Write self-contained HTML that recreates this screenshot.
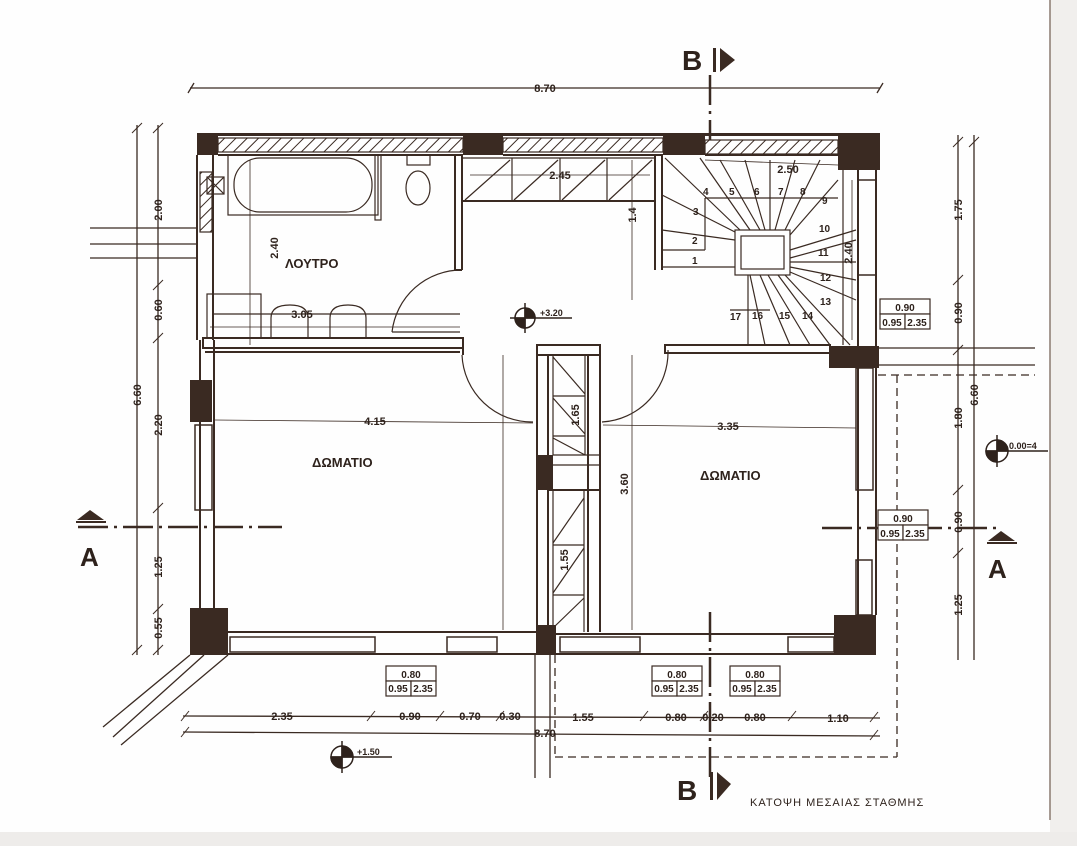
<!DOCTYPE html>
<html><head><meta charset="utf-8"><style>
html,body{margin:0;padding:0;background:#fff;}
svg{display:block;}
text{font-family:"Liberation Sans",sans-serif;fill:#2e221c;font-weight:bold;}
</style></head><body>
<svg width="1077" height="846" viewBox="0 0 1077 846" xmlns="http://www.w3.org/2000/svg">
<defs>
<pattern id="h" width="8" height="8" patternUnits="userSpaceOnUse" patternTransform="rotate(45)">
<rect width="8" height="8" fill="#fff"/><line x1="0" y1="0" x2="0" y2="8" stroke="#3a2a22" stroke-width="2"/>
</pattern>
</defs>
<rect width="1077" height="846" fill="#fefefe"/>
<rect x="1050" y="0" width="27" height="846" fill="#f1efed"/>
<line x1="1050" y1="0" x2="1050" y2="820" stroke="#8a7a70" stroke-width="1.5"/>
<rect x="0" y="832" width="1077" height="14" fill="#eeecea"/>

<g stroke="#3a2a22" fill="none" stroke-width="1.3">
<!-- top dimension -->
<line x1="190" y1="88" x2="880" y2="88"/>
<line x1="188" y1="93" x2="194" y2="83"/><line x1="877" y1="93" x2="883" y2="83"/>
<!-- left dimensions -->
<line x1="137" y1="125" x2="137" y2="655"/>
<line x1="158" y1="125" x2="158" y2="655"/>
<g stroke-width="1"><line x1="132" y1="133" x2="142" y2="123"/><line x1="153" y1="133" x2="163" y2="123"/>
<line x1="153" y1="290" x2="163" y2="280"/><line x1="153" y1="343" x2="163" y2="333"/>
<line x1="153" y1="513" x2="163" y2="503"/><line x1="153" y1="614" x2="163" y2="604"/>
<line x1="132" y1="655" x2="142" y2="645"/><line x1="153" y1="655" x2="163" y2="645"/></g>
<!-- right dimensions -->
<line x1="958" y1="135" x2="958" y2="660"/>
<line x1="974" y1="135" x2="974" y2="660"/>
<g stroke-width="1"><line x1="953" y1="147" x2="963" y2="137"/><line x1="969" y1="147" x2="979" y2="137"/>
<line x1="953" y1="285" x2="963" y2="275"/><line x1="953" y1="355" x2="963" y2="345"/>
<line x1="953" y1="495" x2="963" y2="485"/><line x1="953" y1="558" x2="963" y2="548"/></g>
<!-- bottom dimensions -->
<line x1="183" y1="716" x2="880" y2="718"/>
<line x1="183" y1="732" x2="880" y2="736"/>
<g stroke-width="1"><line x1="181" y1="721" x2="189" y2="711"/><line x1="367" y1="721" x2="375" y2="711"/>
<line x1="436" y1="721" x2="444" y2="711"/><line x1="496" y1="721" x2="504" y2="711"/>
<line x1="640" y1="721" x2="648" y2="711"/><line x1="700" y1="721" x2="708" y2="711"/>
<line x1="788" y1="721" x2="796" y2="711"/><line x1="870" y1="722" x2="878" y2="712"/>
<line x1="181" y1="737" x2="189" y2="727"/><line x1="870" y1="740" x2="878" y2="730"/></g>

<!-- external lines -->
<line x1="90" y1="228" x2="197" y2="228"/><line x1="90" y1="244" x2="197" y2="244"/><line x1="90" y1="258" x2="197" y2="258"/>
<line x1="878" y1="348" x2="1035" y2="348"/><line x1="878" y1="365" x2="1035" y2="365"/>
<line x1="878" y1="375" x2="1035" y2="375" stroke-dasharray="8,5"/>
<line x1="897" y1="375" x2="897" y2="757" stroke-dasharray="8,5"/>
<line x1="555" y1="757" x2="897" y2="757" stroke-dasharray="8,5"/>
<line x1="555" y1="655" x2="555" y2="757" stroke-dasharray="8,5"/>
<line x1="190" y1="655" x2="103" y2="727"/><line x1="204" y1="655" x2="113" y2="737"/><line x1="228" y1="655" x2="121" y2="745"/>
<line x1="535" y1="655" x2="535" y2="778"/><line x1="550" y1="655" x2="550" y2="778"/>

<!-- section lines -->
<line x1="78" y1="527" x2="282" y2="527" stroke-width="2.5" stroke-dasharray="30,6,3,6"/>
<line x1="822" y1="528" x2="1000" y2="528" stroke-width="2.5" stroke-dasharray="30,6,3,6"/>
<line x1="710" y1="75" x2="710" y2="145" stroke-width="2.5" stroke-dasharray="30,6,3,6"/>
<line x1="710" y1="612" x2="710" y2="780" stroke-width="2.5" stroke-dasharray="30,6,3,6"/>
</g>

<!-- walls -->
<g fill="#3a2a22">
<rect x="197" y="133" width="683" height="3"/>
<rect x="197" y="133" width="21" height="22"/>
<rect x="463" y="133" width="40" height="22"/>
<rect x="663" y="133" width="42" height="22"/>
<rect x="838" y="133" width="42" height="37"/>
<rect x="190" y="608" width="38" height="47"/>
<rect x="536" y="625" width="20" height="30"/>
<rect x="834" y="615" width="42" height="40"/>
<rect x="829" y="346" width="50" height="22"/>
<rect x="190" y="380" width="22" height="42"/>
<rect x="537" y="455" width="16" height="35"/>
</g>
<g fill="url(#h)" stroke="#3a2a22" stroke-width="1.2">
<rect x="218" y="138" width="245" height="14"/>
<rect x="503" y="138" width="160" height="14"/>
<rect x="705" y="140" width="133" height="14"/>
<rect x="200" y="172" width="12" height="60"/>
</g>
<g stroke="#3a2a22" fill="none" stroke-width="2">
<!-- outer walls outlines -->
<line x1="197" y1="155" x2="197" y2="340"/><line x1="213" y1="155" x2="213" y2="340"/>
<line x1="218" y1="155" x2="463" y2="155"/><line x1="503" y1="155" x2="663" y2="155"/><line x1="705" y1="155" x2="838" y2="155"/>
<line x1="200" y1="340" x2="200" y2="610"/><line x1="214" y1="340" x2="214" y2="610"/>
<line x1="228" y1="632" x2="536" y2="632"/><line x1="228" y1="654" x2="536" y2="654"/>
<line x1="556" y1="634" x2="834" y2="634"/><line x1="556" y1="654" x2="834" y2="654"/>
<line x1="858" y1="170" x2="858" y2="615"/><line x1="876" y1="170" x2="876" y2="615"/>
<!-- windows left/right -->
<rect x="195" y="425" width="17" height="85" stroke-width="1.5"/>
<rect x="858" y="180" width="18" height="95" stroke-width="1.5"/>
<rect x="856" y="368" width="17" height="122" stroke-width="1.5"/>
<rect x="856" y="560" width="16" height="55" stroke-width="1.5"/>
<rect x="230" y="637" width="145" height="15" stroke-width="1.5"/>
<rect x="447" y="637" width="50" height="15" stroke-width="1.5"/>
<rect x="560" y="637" width="80" height="15" stroke-width="1.5"/>
<rect x="788" y="637" width="46" height="15" stroke-width="1.5"/>
<!-- bathroom walls -->
<line x1="455" y1="155" x2="455" y2="270"/><line x1="462" y1="155" x2="462" y2="270"/>
<line x1="455" y1="270" x2="462" y2="270"/>
<rect x="203" y="338" width="260" height="10" stroke-width="2"/>
<line x1="463" y1="348" x2="463" y2="355"/>
<!-- stair wall -->
<line x1="655" y1="155" x2="655" y2="270"/><line x1="662" y1="155" x2="662" y2="270"/>
<rect x="665" y="345" width="165" height="8"/>
<!-- left room top -->
<line x1="205" y1="352" x2="460" y2="352"/>
<!-- central closet -->
<rect x="537" y="345" width="63" height="10"/>
<line x1="537" y1="355" x2="537" y2="632"/><line x1="548" y1="355" x2="548" y2="632"/>
<line x1="588" y1="355" x2="588" y2="632"/><line x1="600" y1="355" x2="600" y2="632"/>
<line x1="548" y1="490" x2="600" y2="490"/>
</g>
<g stroke="#3a2a22" fill="none" stroke-width="1.2">
<!-- closet hatches -->
<line x1="553" y1="355" x2="553" y2="455"/><line x1="585" y1="355" x2="585" y2="455"/>
<line x1="553" y1="396" x2="585" y2="396"/><line x1="553" y1="436" x2="585" y2="436"/>
<line x1="553" y1="357" x2="585" y2="394"/><line x1="553" y1="398" x2="585" y2="434"/><line x1="553" y1="438" x2="585" y2="455"/>
<line x1="553" y1="455" x2="600" y2="455"/><line x1="553" y1="465" x2="600" y2="465"/>
<line x1="553" y1="490" x2="553" y2="632"/><line x1="584" y1="490" x2="584" y2="632"/>
<line x1="553" y1="545" x2="584" y2="545"/><line x1="553" y1="595" x2="584" y2="595"/>
<line x1="553" y1="543" x2="584" y2="498"/><line x1="553" y1="593" x2="584" y2="548"/><line x1="553" y1="628" x2="584" y2="598"/>
<!-- corridor closet -->
<line x1="463" y1="201" x2="655" y2="201" stroke-width="2"/>
<line x1="463" y1="158" x2="655" y2="158"/>
<line x1="512" y1="158" x2="512" y2="201"/><line x1="560" y1="158" x2="560" y2="201"/><line x1="607" y1="158" x2="607" y2="201"/>
<line x1="465" y1="200" x2="510" y2="160"/><line x1="514" y1="200" x2="558" y2="160"/><line x1="562" y1="200" x2="605" y2="160"/><line x1="609" y1="200" x2="652" y2="160"/>
<!-- bathroom fixtures -->
<rect x="228" y="155" width="150" height="60"/>
<rect x="234" y="158" width="138" height="54" rx="26"/>
<rect x="375" y="155" width="6" height="65"/>
<rect x="207" y="177" width="17" height="17"/><line x1="207" y1="177" x2="224" y2="194"/><line x1="224" y1="177" x2="207" y2="194"/>
<ellipse cx="418" cy="188" rx="12" ry="17"/><rect x="407" y="155" width="23" height="10"/>
<rect x="207" y="294" width="54" height="44"/>
<line x1="213" y1="314" x2="460" y2="314"/>
<path d="M271 338 V318 Q271 305 290 305 Q308 305 308 318 V338"/>
<path d="M330 338 V318 Q330 305 348 305 Q366 305 366 318 V338"/>
<!-- doors -->
<path d="M392 332 A70 70 0 0 1 462 270"/>
<line x1="392" y1="332" x2="460" y2="332"/>
<path d="M462 355 A70 70 0 0 0 533 422"/>
<path d="M668 350 A70 70 0 0 1 602 422"/>
<!-- stairs -->
<rect x="735" y="230" width="55" height="45"/><rect x="741" y="236" width="43" height="33"/>
<line x1="705" y1="198" x2="838" y2="198"/>
<line x1="705" y1="198" x2="705" y2="250"/>
<line x1="662" y1="250" x2="705" y2="250"/><line x1="662" y1="267" x2="735" y2="267"/>
<line x1="662" y1="230" x2="735" y2="240"/><line x1="662" y1="195" x2="735" y2="232"/>
<line x1="665" y1="158" x2="740" y2="230"/><line x1="700" y1="158" x2="750" y2="230"/>
<line x1="720" y1="160" x2="760" y2="230"/><line x1="745" y1="160" x2="765" y2="230"/>
<line x1="770" y1="160" x2="770" y2="230"/><line x1="795" y1="160" x2="775" y2="230"/>
<line x1="820" y1="160" x2="785" y2="230"/><line x1="838" y1="180" x2="790" y2="235"/>
<line x1="856" y1="230" x2="790" y2="250"/><line x1="856" y1="240" x2="790" y2="258"/>
<line x1="856" y1="262" x2="790" y2="262"/><line x1="856" y1="280" x2="790" y2="267"/>
<line x1="856" y1="300" x2="790" y2="272"/><line x1="850" y1="345" x2="785" y2="275"/>
<line x1="830" y1="345" x2="778" y2="275"/><line x1="810" y1="345" x2="768" y2="275"/>
<line x1="790" y1="345" x2="760" y2="275"/><line x1="765" y1="345" x2="750" y2="275"/>
<line x1="748" y1="345" x2="748" y2="275"/>
<line x1="730" y1="310" x2="770" y2="310"/>
<line x1="843" y1="160" x2="843" y2="345"/>
<!-- dimension lines inside -->
<line x1="470" y1="175" x2="650" y2="175" stroke-width="0.8"/>
<line x1="632" y1="160" x2="632" y2="300" stroke-width="0.8"/>
<line x1="250" y1="160" x2="250" y2="345" stroke-width="0.8"/>
<line x1="210" y1="327" x2="460" y2="327" stroke-width="0.8"/>
<line x1="215" y1="420" x2="533" y2="423" stroke-width="0.8"/>
<line x1="603" y1="425" x2="856" y2="428" stroke-width="0.8"/>
<line x1="503" y1="355" x2="503" y2="630" stroke-width="0.8"/>
<line x1="632" y1="355" x2="632" y2="630" stroke-width="0.8"/>
<line x1="705" y1="160" x2="838" y2="165" stroke-width="0.8"/>
<line x1="852" y1="180" x2="852" y2="340" stroke-width="0.8"/>
</g>
<!-- window tags -->
<g stroke="#3a2a22" fill="#fff" stroke-width="1.2">
<rect x="386" y="666" width="50" height="15"/><rect x="386" y="681" width="25" height="15"/><rect x="411" y="681" width="25" height="15"/>
<rect x="652" y="666" width="50" height="15"/><rect x="652" y="681" width="25" height="15"/><rect x="677" y="681" width="25" height="15"/>
<rect x="730" y="666" width="50" height="15"/><rect x="730" y="681" width="25" height="15"/><rect x="755" y="681" width="25" height="15"/>
<rect x="880" y="299" width="50" height="15"/><rect x="880" y="314" width="25" height="15"/><rect x="905" y="314" width="25" height="15"/>
<rect x="878" y="510" width="50" height="15"/><rect x="878" y="525" width="25" height="15"/><rect x="903" y="525" width="25" height="15"/>
</g>
<g font-size="10" text-anchor="middle" style="font-weight:normal">
<text x="411" y="678">0.80</text><text x="398" y="692">0.95</text><text x="423" y="692">2.35</text>
<text x="677" y="678">0.80</text><text x="664" y="692">0.95</text><text x="689" y="692">2.35</text>
<text x="755" y="678">0.80</text><text x="742" y="692">0.95</text><text x="767" y="692">2.35</text>
<text x="905" y="311">0.90</text><text x="892" y="326">0.95</text><text x="917" y="326">2.35</text>
<text x="903" y="522">0.90</text><text x="890" y="537">0.95</text><text x="915" y="537">2.35</text>
</g>
<!-- level markers -->
<g stroke="#2e221c" stroke-width="1.5">
<circle cx="525" cy="318" r="10" fill="#fff"/><path d="M525 308 A10 10 0 0 1 535 318 L525 318Z M525 328 A10 10 0 0 1 515 318 L525 318Z" fill="#2e221c"/>
<line x1="510" y1="318" x2="572" y2="318"/><line x1="525" y1="303" x2="525" y2="333"/>
<circle cx="997" cy="451" r="11" fill="#fff"/><path d="M997 440 A11 11 0 0 1 1008 451 L997 451Z M997 462 A11 11 0 0 1 986 451 L997 451Z" fill="#2e221c"/>
<line x1="986" y1="451" x2="1048" y2="451"/><line x1="997" y1="435" x2="997" y2="467"/>
<circle cx="342" cy="757" r="11" fill="#fff"/><path d="M342 746 A11 11 0 0 1 353 757 L342 757Z M342 768 A11 11 0 0 1 331 757 L342 757Z" fill="#2e221c"/>
<line x1="331" y1="757" x2="392" y2="757"/><line x1="342" y1="741" x2="342" y2="773"/>
</g>
<g font-size="9" style="font-weight:normal">
<text x="540" y="316">+3.20</text><text x="1009" y="449">0.00=4</text><text x="357" y="755">+1.50</text>
</g>
<!-- section markers -->
<g fill="#3a2a22">
<path d="M77 520 L90 510 L104 520 Z"/><rect x="76" y="521" width="30" height="2"/>
<path d="M988 541 L1001 531 L1015 541 Z"/><rect x="987" y="542" width="30" height="2"/>
<path d="M720 48 L735 60 L720 72 Z"/><rect x="713" y="48" width="3" height="24"/>
<path d="M717 772 L731 784 L717 800 Z"/><rect x="710" y="772" width="3" height="28"/>
</g>
<text x="80" y="566" font-size="26">A</text>
<text x="988" y="578" font-size="26">A</text>
<text x="682" y="70" font-size="28">B</text>
<text x="677" y="800" font-size="28">B</text>
<!-- labels -->
<g font-size="11" text-anchor="middle">
<text x="545" y="92">8.70</text>
<text x="282" y="720">2.35</text><text x="410" y="720">0.90</text><text x="470" y="720">0.70</text>
<text x="510" y="720">0.30</text><text x="583" y="721">1.55</text><text x="676" y="721">0.80</text>
<text x="713" y="721">0.20</text><text x="755" y="721">0.80</text><text x="838" y="722">1.10</text>
<text x="545" y="737">8.70</text>
<text x="560" y="179">2.45</text><text x="788" y="173">2.50</text>
<text x="302" y="318">3.05</text>
<text x="375" y="425">4.15</text><text x="728" y="430">3.35</text>
</g>
<g font-size="11" text-anchor="middle">
<text transform="translate(141,395) rotate(-90)">6.60</text>
<text transform="translate(162,210) rotate(-90)">2.00</text>
<text transform="translate(162,310) rotate(-90)">0.60</text>
<text transform="translate(162,425) rotate(-90)">2.20</text>
<text transform="translate(162,567) rotate(-90)">1.25</text>
<text transform="translate(162,628) rotate(-90)">0.55</text>
<text transform="translate(962,210) rotate(-90)">1.75</text>
<text transform="translate(962,313) rotate(-90)">0.90</text>
<text transform="translate(962,418) rotate(-90)">1.80</text>
<text transform="translate(962,522) rotate(-90)">0.90</text>
<text transform="translate(962,605) rotate(-90)">1.25</text>
<text transform="translate(978,395) rotate(-90)">6.60</text>
<text transform="translate(278,248) rotate(-90)">2.40</text>
<text transform="translate(636,215) rotate(-90)">1.4</text>
<text transform="translate(852,253) rotate(-90)">2.40</text>
<text transform="translate(579,415) rotate(-90)">1.65</text>
<text transform="translate(568,560) rotate(-90)">1.55</text>
<text transform="translate(628,484) rotate(-90)">3.60</text>
</g>
<g font-size="10" style="font-weight:normal">
<text x="692" y="264">1</text><text x="692" y="244">2</text><text x="693" y="215">3</text><text x="703" y="195">4</text>
<text x="729" y="195">5</text><text x="754" y="195">6</text><text x="778" y="195">7</text><text x="800" y="195">8</text>
<text x="822" y="204">9</text><text x="819" y="232">10</text><text x="818" y="256">11</text><text x="820" y="281">12</text>
<text x="820" y="305">13</text><text x="802" y="319">14</text><text x="779" y="319">15</text><text x="752" y="319">16</text><text x="730" y="320">17</text>
</g>
<g font-size="13" style="font-weight:normal" fill="#2e221c">
<text x="285" y="268">ΛΟΥΤΡΟ</text>
<text x="312" y="467">ΔΩΜΑΤΙΟ</text>
<text x="700" y="480">ΔΩΜΑΤΙΟ</text>
</g>
<text x="750" y="806" font-size="11" style="font-weight:normal;letter-spacing:1px">ΚΑΤΟΨΗ  ΜΕΣΑΙΑΣ ΣΤΑΘΜΗΣ</text>
</svg>
</body></html>
